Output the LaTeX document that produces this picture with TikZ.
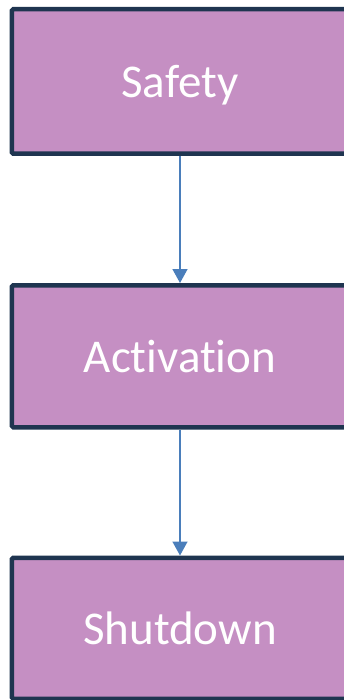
\documentclass[tikz,border=0pt]{standalone}
\usepackage{fontspec}
\setmainfont[Ligatures=NoCommon]{Carlito}
\usetikzlibrary{arrows.meta}
\definecolor{stagefill}{HTML}{C58FC3}
\definecolor{stageedge}{HTML}{1F3550}
\definecolor{flowblue}{HTML}{4A7EBB}
\tikzset{
  stage/.style={draw=stageedge, line width=4.5pt, fill=stagefill,
    rounded corners=1.5pt, text=white, font=\fontsize{47}{56}\selectfont,
    text height=33pt, text depth=0pt,
    minimum width=336.5pt, minimum height=142pt, inner sep=0pt},
  flow/.style={draw=flowblue, line width=1.5pt,
    -{Triangle[width=15pt,length=14pt]}}
}
\begin{document}
\begin{tikzpicture}[x=1pt,y=-1pt]
  \useasboundingbox (0,0) rectangle (344,700);
  \node[stage, minimum height=144.5pt] (safety) at (180,81.5) {Safety};
  \node[stage] (activation) at (180,356.25) {Activation};
  \node[stage, minimum height=141pt] (shutdown) at (180,628.25) {Shutdown};
  \draw[flow] (safety.south) -- (activation.north);
  \draw[flow] (activation.south) -- (shutdown.north);
\end{tikzpicture}
\end{document}
